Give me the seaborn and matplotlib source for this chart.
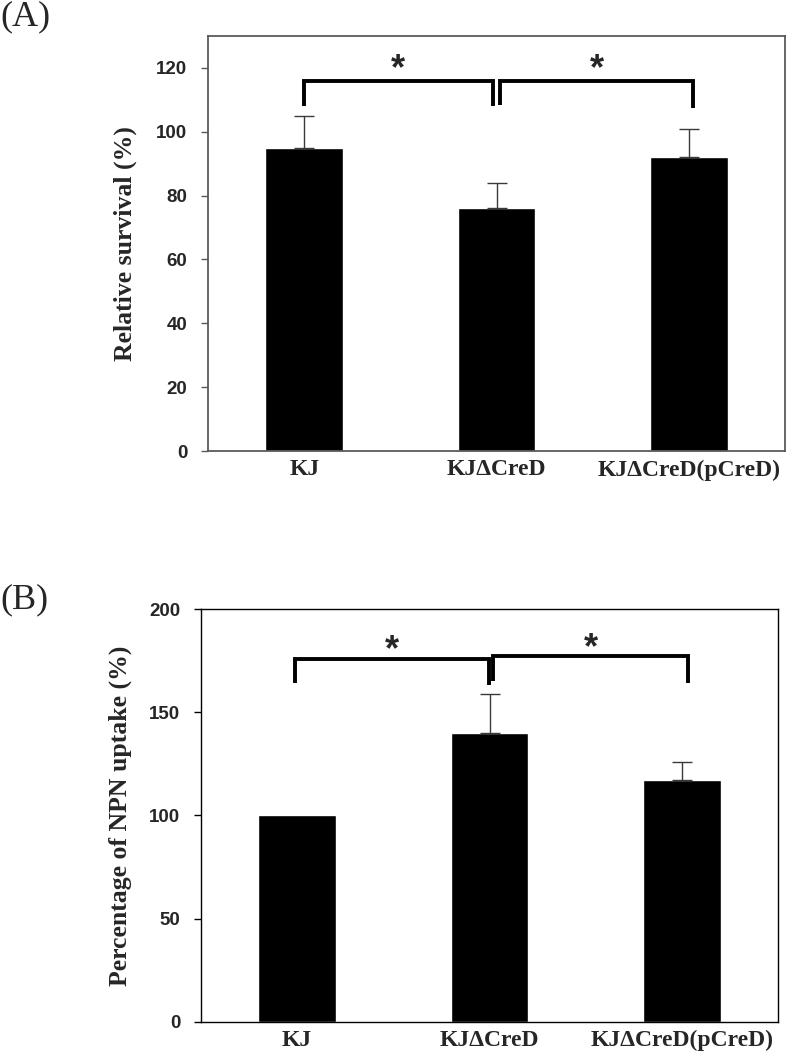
import numpy as np
import matplotlib
matplotlib.use('Agg')
import matplotlib.pyplot as plt
import seaborn as sns

groups = ['KJ', 'KJ\u0394CreD', 'KJ\u0394CreD(pCreD)']

# panel A - relative survival
survival = [95, 76, 92]
survival_err = [10, 8, 9]

# panel B - NPN uptake
npn = [100, 140, 117]
npn_err = [0, 19, 9]

SANS = 'Liberation Sans'
SERIF = 'Liberation Serif'

sns.set_style('white')


def draw_panel(ax, values, errors, ylabel, ylim, yticks, spine_color, spine_lw, tick_pad, label_x, brackets):
    sns.barplot(x=groups, y=values, color='black', saturation=1, width=0.405,
                errorbar=None, ax=ax, zorder=2)
    idx = [i for i, e in enumerate(errors) if e > 0]
    ax.errorbar(idx, [values[i] for i in idx],
                yerr=[np.zeros(len(idx)), [errors[i] for i in idx]],
                fmt='none', ecolor='#3a3a3a', elinewidth=1.0, capsize=7.5, capthick=1.0, zorder=3)

    ax.set_xlim(-0.5, 2.5)
    ax.set_ylim(*ylim)
    ax.set_yticks(yticks)
    ax.set_xlabel('')
    ax.set_ylabel(ylabel, fontfamily=SERIF, fontweight='bold', fontsize=18.5)
    ax.yaxis.set_label_coords(label_x, 0.5)

    for s in ax.spines.values():
        s.set_visible(True)
        s.set_color(spine_color)
        s.set_linewidth(spine_lw)
    ax.tick_params(axis='x', length=0, pad=6)
    ax.tick_params(axis='y', direction='out', length=5, width=1, color=spine_color, pad=tick_pad, left=True)
    for lab in ax.get_yticklabels():
        lab.set_fontfamily(SANS)
        lab.set_fontweight('bold')
        lab.set_fontsize(13.5)
    for lab in ax.get_xticklabels():
        lab.set_fontfamily(SERIF)
        lab.set_fontweight('bold')
        lab.set_fontsize(17)

    # significance brackets
    for x1, x2, y1, ytop, y2, ystar in brackets:
        ax.plot([x1, x1, x2, x2], [y1, ytop, ytop, y2], color='black', lw=2.8,
                solid_joinstyle='miter', solid_capstyle='butt', zorder=4)
        ax.text((x1 + x2) / 2, ystar, '*', ha='center', va='center',
                fontfamily=SANS, fontweight='bold', fontsize=26)


fig = plt.figure(figsize=(7.87, 10.54), dpi=100)
axA = fig.add_axes([0.2643, 0.5721, 0.7332, 0.3937])
axB = fig.add_axes([0.2554, 0.0304, 0.7332, 0.3918])

draw_panel(axA, survival, survival_err, 'Relative survival (%)', (0, 130),
           [0, 20, 40, 60, 80, 100, 120], '#5a5a5a', 1.3, 10, -0.123,
           [(0.0, 0.98, 108, 116, 108, 119.5),
            (1.02, 2.02, 108.5, 116, 107.5, 119.5)])

draw_panel(axB, npn, npn_err, 'Percentage of NPN uptake (%)', (0, 200),
           [0, 50, 100, 150, 200], 'black', 1.0, 10, -0.12,
           [(-0.01, 0.995, 164, 176, 163, 180),
            (1.02, 2.03, 165, 177, 164, 181)])

fig.text(0.0, 1 - 17 / 1054, '(A)', fontfamily=SERIF, fontsize=26, va='center', ha='left')
fig.text(0.0, 1 - 600 / 1054, '(B)', fontfamily=SERIF, fontsize=26, va='center', ha='left')

fig.savefig('out.png', dpi=100)
